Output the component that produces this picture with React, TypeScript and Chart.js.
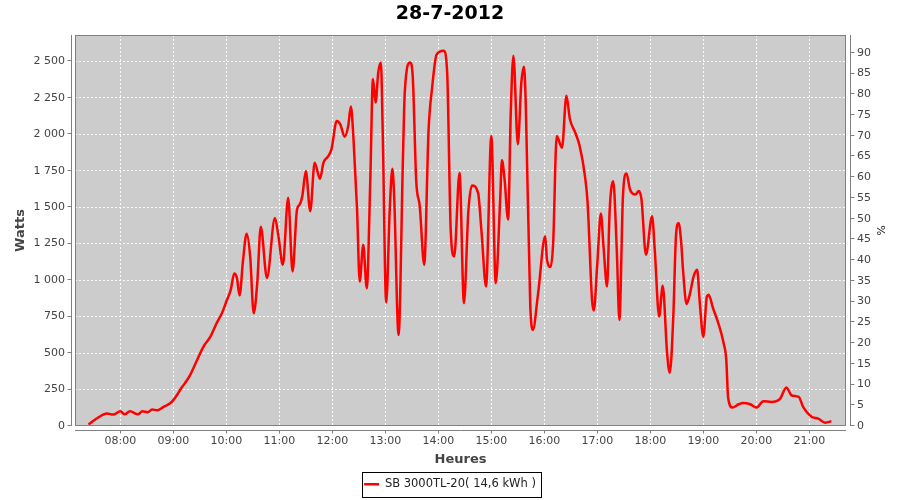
import React, { useEffect, useRef } from "react";
import { Chart, registerables } from "chart.js";

Chart.register(...registerables);

const TITLE = "28-7-2012";
const SERIES_LABEL = "SB 3000TL-20( 14,6 kWh )";
const X_TITLE = "Heures";
const Y_TITLE = "Watts";
const Y2_TITLE = "%";

const hourLabels = ["08:00", "09:00", "10:00", "11:00", "12:00", "13:00", "14:00", "15:00", "16:00", "17:00", "18:00", "19:00", "20:00", "21:00"];
const wattLabels = ["0", "250", "500", "750", "1 000", "1 250", "1 500", "1 750", "2 000", "2 250", "2 500"];
const pctLabels = ["0", "5", "10", "15", "20", "25", "30", "35", "40", "45", "50", "55", "60", "65", "70", "75", "80", "85", "90"];

const times = [
  "07:24", "07:35", "07:45", "07:52", "08:00", "08:05", "08:11", "08:20", "08:25", "08:31",
  "08:36", "08:42", "08:49", "08:56", "09:00", "09:04", "09:08", "09:13", "09:19", "09:26",
  "09:34", "09:42", "09:49", "09:55", "10:00", "10:05", "10:09", "10:12", "10:15", "10:19",
  "10:23", "10:27", "10:31", "10:35", "10:39", "10:46", "10:55", "10:59", "11:04", "11:10",
  "11:15", "11:20", "11:23", "11:26", "11:30", "11:35", "11:40", "11:46", "11:50", "11:55",
  "11:59", "12:05", "12:09", "12:14", "12:18", "12:21", "12:24", "12:28", "12:31", "12:35",
  "12:39", "12:43", "12:46", "12:49", "12:52", "12:55", "12:57", "13:01", "13:05", "13:08",
  "13:10", "13:15", "13:20", "13:22", "13:28", "13:31", "13:35", "13:39", "13:44", "13:49",
  "13:53", "13:58", "14:06", "14:10", "14:14", "14:18", "14:24", "14:29", "14:34", "14:38",
  "14:45", "14:49", "14:54", "15:00", "15:05", "15:10", "15:12", "15:15", "15:19", "15:22",
  "15:25", "15:30", "15:34", "15:37", "15:39", "15:44", "15:47", "15:53", "16:01", "16:03",
  "16:07", "16:10", "16:14", "16:20", "16:25", "16:29", "16:35", "16:40", "16:46", "16:49",
  "16:54", "16:56", "17:00", "17:04", "17:07", "17:11", "17:14", "17:18", "17:22", "17:25",
  "17:29", "17:33", "17:37", "17:43", "17:47", "17:50", "17:55", "18:02", "18:05", "18:10",
  "18:14", "18:19", "18:22", "18:26", "18:29", "18:32", "18:35", "18:37", "18:41", "18:45",
  "18:49", "18:53", "18:56", "19:00", "19:04", "19:06", "19:11", "19:17", "19:23", "19:26",
  "19:28", "19:33", "19:40", "19:45", "19:53", "20:00", "20:08", "20:17", "20:27", "20:34",
  "20:40", "20:48", "20:53", "21:03", "21:10", "21:18", "21:25",
];

const watts = [
  10, 58, 85, 78, 101, 80, 101, 80, 101, 94,
  113, 108, 131, 154, 177, 211, 250, 292, 349, 440,
  543, 612, 704, 773, 853, 933, 1045, 1014, 895, 1140,
  1318, 1162, 773, 979, 1365, 1015, 1426, 1300, 1105, 1564,
  1059, 1483, 1518, 1575, 1747, 1472, 1805, 1695, 1805, 1846,
  1896, 2091, 2068, 1983, 2056, 2190, 1965, 1483, 990, 1243,
  945, 1690, 2378, 2217, 2424, 2492, 2034, 846, 1483, 1763,
  1575, 624, 1850, 2286, 2492, 2400, 1678, 1506, 1105, 2034,
  2320, 2545, 2572, 2424, 1346, 1162, 1736, 842, 1472, 1649,
  1598, 1323, 956, 1988, 979, 1552, 1821, 1690, 1415, 2149,
  2538, 1931, 2355, 2462, 2206, 842, 658, 911, 1300, 1140,
  1089, 1254, 1988, 1908, 2263, 2102, 2011, 1919, 1713, 1530,
  865, 791, 1117, 1456, 1231, 956, 1483, 1678, 1208, 727,
  1575, 1731, 1621, 1587, 1610, 1552, 1174, 1437, 1208, 750,
  961, 498, 365, 750, 1300, 1392, 1254, 1071, 837, 911,
  1025, 1071, 842, 612, 887, 899, 807, 704, 567, 452,
  199, 126, 149, 158, 149, 126, 170, 165, 188, 264,
  209, 199, 131, 62, 51, 23, 32,
];

const X_MIN = 428.7;
const X_MAX = 1301.5;
const W_MAX = 2680;
const PCT_MAX = 94.3;

const toMinutes = (s: string) => {
  const [h, m] = s.split(":").map(Number);
  return h * 60 + m;
};

const FONT = "'DejaVu Sans', 'Noto Sans', sans-serif";

const decorations = {
  id: "decorations",
  beforeDraw(chart: any) {
    const { ctx, chartArea: a } = chart;
    ctx.save();
    ctx.fillStyle = "#ffffff";
    ctx.fillRect(0, 0, chart.width, chart.height);
    ctx.fillStyle = "#cccccc";
    ctx.fillRect(a.left, a.top, a.right - a.left, a.bottom - a.top);
    ctx.restore();
  },
  afterDraw(chart: any) {
    const { ctx, chartArea: a, scales } = chart;
    ctx.save();
    ctx.lineWidth = 1;
    ctx.strokeStyle = "#808080";
    ctx.strokeRect(a.left + 0.5, a.top + 0.5, a.right - a.left - 1, a.bottom - a.top - 1);
    const lx = a.left - 3.5;
    const rx = a.right + 4.5;
    const by = a.bottom + 4.5;
    ctx.beginPath();
    ctx.moveTo(lx, a.top);
    ctx.lineTo(lx, a.bottom);
    ctx.moveTo(rx, a.top);
    ctx.lineTo(rx, a.bottom);
    ctx.moveTo(a.left, by);
    ctx.lineTo(a.right, by);
    for (const t of scales.y.ticks) {
      const py = Math.round(scales.y.getPixelForValue(t.value)) - 0.5;
      ctx.moveTo(lx - 4, py);
      ctx.lineTo(lx, py);
    }
    for (const t of scales.y2.ticks) {
      const py = Math.round(scales.y2.getPixelForValue(t.value)) - 0.5;
      ctx.moveTo(rx, py);
      ctx.lineTo(rx + 4, py);
    }
    for (const t of scales.x.ticks) {
      const px = Math.round(scales.x.getPixelForValue(t.value)) + 0.5;
      ctx.moveTo(px, by);
      ctx.lineTo(px, by + 3);
    }
    ctx.stroke();
    const hb = chart.legend && chart.legend.legendHitBoxes && chart.legend.legendHitBoxes[0];
    if (hb) {
      const cy = hb.top + hb.height / 2;
      ctx.strokeStyle = "#000000";
      const l = Math.round(hb.left - 2) + 0.5;
      const r = Math.round(hb.left + hb.width + 5) + 0.5;
      const t = Math.round(cy - 12.5) + 0.5;
      const b = Math.round(cy + 12.5) + 0.5;
      ctx.strokeRect(l, t, r - l, b - t);
    }
    ctx.restore();
  },
};

export default function App() {
  const ref = useRef<HTMLCanvasElement | null>(null);

  useEffect(() => {
    if (!ref.current) return;
    const data = times.map((t, i) => ({ x: toMinutes(t), y: watts[i] }));
    const chart = new Chart(ref.current, {
      type: "line",
      data: {
        datasets: [
          {
            label: SERIES_LABEL,
            data,
            borderColor: "#ff0000",
            backgroundColor: "#ff0000",
            borderWidth: 2.5,
            pointRadius: 0,
            fill: false,
            cubicInterpolationMode: "monotone",
            yAxisID: "y",
          },
        ],
      },
      options: {
        responsive: false,
        animation: false,
        devicePixelRatio: 1,
        layout: { padding: 0 },
        font: { family: FONT },
        plugins: {
          title: {
            display: true,
            text: TITLE,
            color: "#000000",
            font: { family: FONT, size: 19, weight: "bold" },
            padding: { top: 2.4, bottom: 9.8 },
          },
          legend: {
            display: true,
            position: "bottom",
            labels: {
              usePointStyle: true,
              pointStyle: "line",
              pointStyleWidth: 15,
              padding: 4,
              color: "#222222",
              font: { family: FONT, size: 11.5 },
            },
          },
          tooltip: { enabled: false },
        },
        scales: {
          x: {
            type: "linear",
            min: X_MIN,
            max: X_MAX,
            afterFit: (s: any) => {
              s.height = 48.5;
            },
            ticks: {
              stepSize: 60,
              includeBounds: false,
              maxRotation: 0,
              autoSkip: false,
              padding: 9,
              color: "#444444",
              font: { family: FONT, size: 11 },
              callback: (v: any) => hourLabels[Math.round((Number(v) - 480) / 60)] ?? "",
            },
            grid: { color: "rgba(255,255,255,0.9)", lineWidth: 1, drawTicks: false },
            border: { display: false, dash: [2, 2] },
            title: {
              display: true,
              text: X_TITLE,
              color: "#444444",
              font: { family: FONT, size: 13, weight: "bold" },
              padding: { top: 0, bottom: 6.7 },
            },
          },
          y: {
            type: "linear",
            position: "left",
            min: 0,
            max: W_MAX,
            afterFit: (s: any) => {
              s.width = 75;
            },
            ticks: {
              stepSize: 250,
              includeBounds: false,
              padding: 10,
              color: "#444444",
              font: { family: FONT, size: 11 },
              callback: (v: any) => wattLabels[Math.round(Number(v) / 250)] ?? "",
            },
            grid: { color: "rgba(255,255,255,0.9)", lineWidth: 1, drawTicks: false },
            border: { display: false, dash: [2, 2] },
            title: {
              display: true,
              text: Y_TITLE,
              color: "#444444",
              font: { family: FONT, size: 13, weight: "bold" },
              padding: { top: 13.2, bottom: 0 },
            },
          },
          y2: {
            type: "linear",
            position: "right",
            display: true,
            min: 0,
            max: PCT_MAX,
            afterFit: (s: any) => {
              s.width = 54;
            },
            ticks: {
              stepSize: 5,
              includeBounds: false,
              padding: 11,
              color: "#444444",
              font: { family: FONT, size: 11 },
              callback: (v: any) => pctLabels[Math.round(Number(v) / 5)] ?? "",
            },
            grid: { drawOnChartArea: false, drawTicks: false },
            border: { display: false },
            title: {
              display: true,
              text: Y2_TITLE,
              color: "#222222",
              font: { family: FONT, size: 11 },
              padding: { top: 13.1, bottom: 0 },
            },
          },
        },
      } as any,
      plugins: [decorations],
    });
    return () => chart.destroy();
  }, []);

  return (
    <div style={{ position: "absolute", left: 0, top: 0, width: 900, height: 500 }}>
      <canvas ref={ref} width={900} height={500} style={{ display: "block" }} />
    </div>
  );
}
